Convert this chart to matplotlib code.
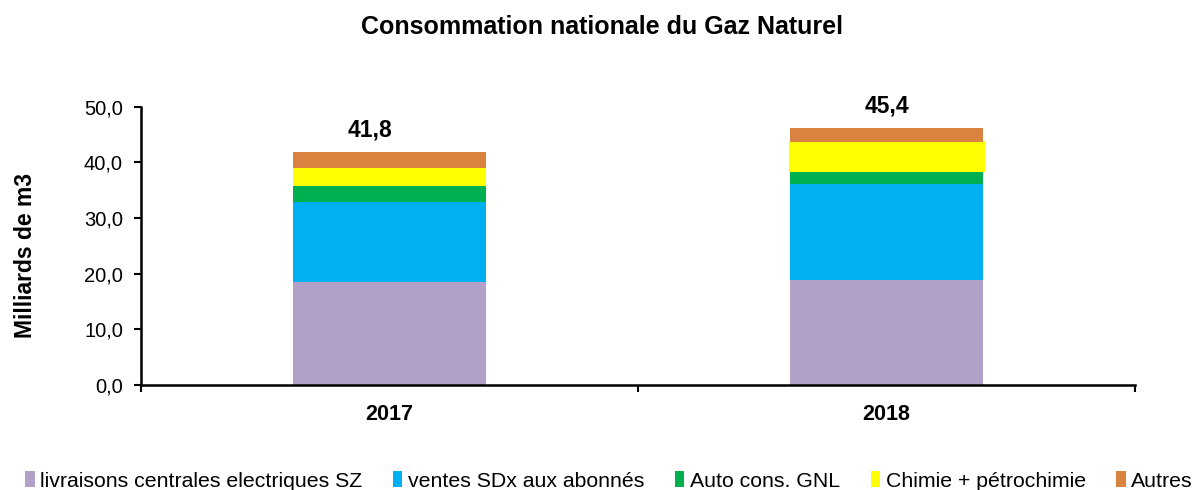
import numpy as np
import matplotlib
matplotlib.use('Agg')
import matplotlib.pyplot as plt

plt.rcParams['font.family'] = ['Liberation Sans', 'DejaVu Sans']

# ========================
# données (milliards de m3)
# ========================
years = ["2017", "2018"]
series_names = ["livraisons centrales electriques SZ", "ventes SDx aux abonnés",
                "Auto cons. GNL", "Chimie + pétrochimie", "Autres"]
livraisons = [18.5, 18.8]
ventes = [14.4, 17.3]
auto_cons = [2.8, 2.5]
chimie = [3.3, 5.0]
autres = [2.8, 2.6]
totals = [41.8, 45.4]
colors = ["#B1A0C7", "#00B0F0", "#00B050", "#FFFF00", "#DA8240"]

fig = plt.figure(figsize=(11.94, 4.9), dpi=100)
ax = fig.add_axes([0.1181, 0.2145, 0.8325, 0.5675])

x = np.arange(len(years))
bottom = np.zeros(len(years))
for name, vals, c in zip(series_names, [livraisons, ventes, auto_cons, chimie, autres], colors):
    # le jaune de 2018 a un contour un peu plus large dans l'original
    lw = [0, 2.2] if c == "#FFFF00" else 0
    ax.bar(x, vals, 0.388, bottom=bottom, color=c, edgecolor=c, linewidth=lw,
           label=name, zorder=2)
    bottom += np.array(vals)

# étiquettes des totaux au-dessus des barres
label_dx = [-14, 0]
for xi, top, t, dx in zip(x, bottom, totals, label_dx):
    ax.annotate(f"{t:.1f}".replace(".", ","), (xi, top), xytext=(dx, 16),
                textcoords="offset points", ha="center", va="center",
                fontsize=16.5, fontweight="bold")

ax.set_xlim(-0.5, 1.5)
ax.set_ylim(0, 50)
yt = np.arange(0, 51, 10)
ax.set_yticks(yt)
ax.set_yticklabels([f"{v:.1f}".replace(".", ",") for v in yt], fontsize=14.5)
ax.set_xticks([-0.5, 0.5, 1.5])
ax.set_xticklabels([])
ax.set_xticks(x, minor=True)
ax.set_xticklabels(years, minor=True, fontsize=15.5, fontweight="bold")
ax.tick_params(axis="x", which="minor", length=0, pad=14)
ax.tick_params(axis="x", which="major", length=5, width=1.5, direction="out")
ax.tick_params(axis="y", length=5, width=1.5, direction="out", pad=8)
for s in ["top", "right"]:
    ax.spines[s].set_visible(False)
for s in ["left", "bottom"]:
    ax.spines[s].set_linewidth(1.8)

fig.text(25 / 1194, 1 - 255 / 490, "Milliards de m3", rotation=90, ha="center",
         va="center", fontsize=16.5, fontweight="bold")
fig.text(0.504, 1 - 27 / 490, "Consommation nationale du Gaz Naturel",
         ha="center", va="center", fontsize=18, fontweight="bold")

fig.legend(loc="center", bbox_to_anchor=(0.51, 1 - 481 / 490), ncol=5, frameon=False,
           fontsize=15.3, handlelength=0.45, handleheight=0.75, handletextpad=0.25,
           columnspacing=1.45, borderaxespad=0, borderpad=0)

plt.savefig("out.png", dpi=100)
plt.close()
